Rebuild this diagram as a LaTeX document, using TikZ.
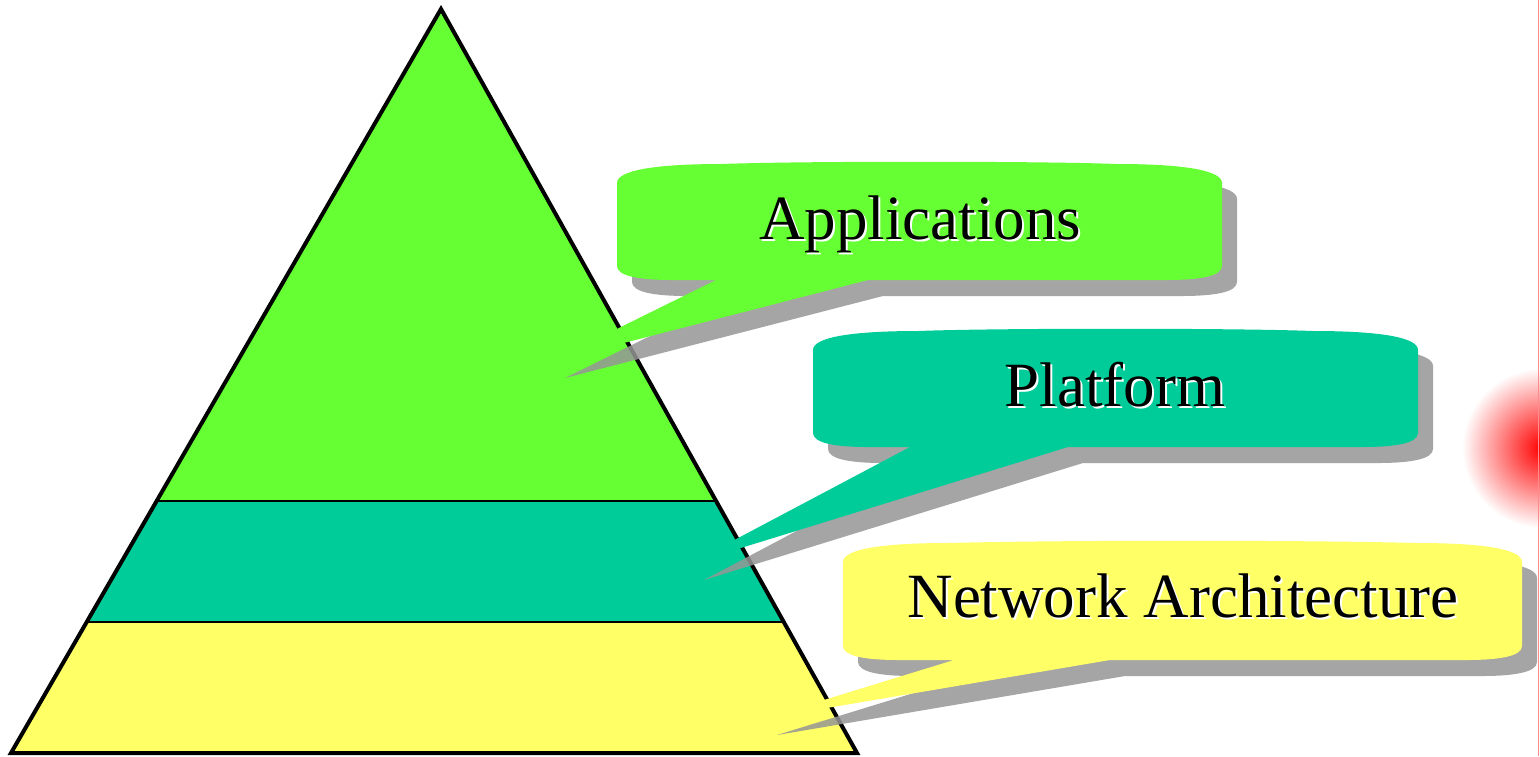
\documentclass[tikz,border=0pt]{standalone}
\usepackage{fontspec}
\newfontfamily\callfont{Liberation Serif}
\definecolor{pgreen}{RGB}{102,255,51}
\definecolor{pteal}{RGB}{0,204,153}
\definecolor{pyellow}{RGB}{255,255,102}
\definecolor{shadowgray}{RGB}{150,150,150}
% #1 L, #2 T, #3 R, #4 B, #5 tail left base x, #6 tail right base x, #7 #8 tip, #9 style
\newcommand{\calloutfill}[9]{%
 \fill[#9] ({#1},{#2+19}) .. controls ({#1},{#2+6}) and ({#1+40},{#2}) .. ({#1+105},{#2})
 .. controls ({(#1+#3)/2-120},{#2-3}) and ({(#1+#3)/2+120},{#2-3}) .. ({#3-105},{#2})
 .. controls ({#3-40},{#2}) and ({#3},{#2+6}) .. ({#3},{#2+19})
 -- ({#3},{#4-14}) .. controls ({#3},{#4-4}) and ({#3-22},{#4}) .. ({#3-55},{#4})
 -- ({#6},{#4}) -- ({#7},{#8}) -- ({#5},{#4}) -- ({#1+55},{#4})
 .. controls ({#1+22},{#4}) and ({#1},{#4-4}) .. ({#1},{#4-14}) -- cycle;}
\tikzset{
  shadowfill/.style={fill=shadowgray, opacity=0.85, shift={(15,16)}},
  calltext/.style={font=\callfont\fontsize{31.5}{36}\selectfont, anchor=base, inner sep=0pt},
  textshadow/.style={calltext, text=white},
  outline/.style={line width=2pt, line join=miter},
  bandline/.style={line width=1pt}
}
\begin{document}
\begin{tikzpicture}[x=0.5pt, y=-0.5pt]
\useasboundingbox (0,0) rectangle (1540,756);
\fill[white] (0,0) rectangle (1540,756);
% decorative glow at right edge
\begin{scope}
\clip (0,0) rectangle (1540,756);
\shade[inner color=red, outer color=white] (1542,448) circle (80);
\end{scope}
\coordinate (rtop) at (1538.5,0);
\coordinate (rbot) at (1538.5,756);
\draw[red!45, line width=0.6pt] (rtop) -- (rbot);
% pyramid
\coordinate (apex) at (441,9);
\coordinate (bl) at (11,753);
\coordinate (br) at (857,753);
\begin{scope}
\clip (apex) -- (bl) -- (br) -- cycle;
\fill[pgreen] (0,0) rectangle (1540,501);
\fill[pteal] (0,501) rectangle (1540,622);
\fill[pyellow] (0,622) rectangle (1540,760);
\coordinate (l1a) at (0,501); \coordinate (l1b) at (1540,501);
\coordinate (l2a) at (0,622); \coordinate (l2b) at (1540,622);
\draw[bandline] (l1a) -- (l1b);
\draw[bandline] (l2a) -- (l2b);
\end{scope}
\draw[outline] (apex) -- (bl) -- (br) -- cycle;
% callouts
\coordinate (apptip) at (550,362);
\coordinate (plattip) at (689,564);
\coordinate (nettip) at (762,719);
\calloutfill{617}{164}{1222}{280}{716}{868}{550}{362}{shadowfill}
\calloutfill{617}{164}{1222}{280}{716}{868}{550}{362}{pgreen}
\calloutfill{813}{331}{1418}{447}{910}{1068}{689}{564}{shadowfill}
\calloutfill{813}{331}{1418}{447}{910}{1068}{689}{564}{pteal}
\calloutfill{843}{543}{1522}{660}{954}{1110}{762}{719}{shadowfill}
\calloutfill{843}{543}{1522}{660}{954}{1110}{762}{719}{pyellow}
% texts
\node[textshadow] (appS) at (922,241) {Applications};
\node[calltext] (app) at (920,239) {Applications};
\node[textshadow] (platS) at (1117,408) {Platform};
\node[calltext] (plat) at (1115,406) {Platform};
\node[textshadow] (netS) at (1185,619) {Network Architecture};
\node[calltext] (net) at (1183,617) {Network Architecture};
\end{tikzpicture}
\end{document}
